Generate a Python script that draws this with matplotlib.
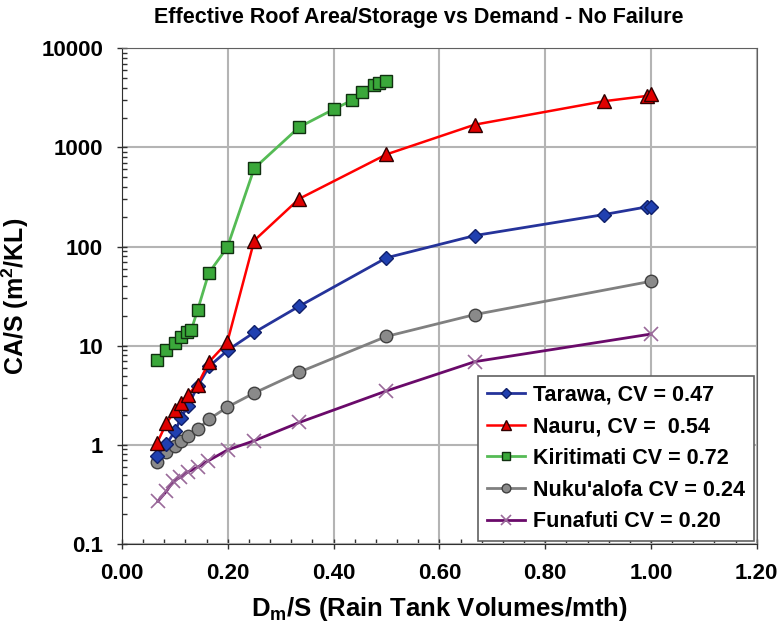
import numpy as np
import matplotlib
matplotlib.use('Agg')
import matplotlib.pyplot as plt
from matplotlib.ticker import LogLocator, MultipleLocator, FixedLocator, FuncFormatter

plt.rcParams['font.family'] = ['Liberation Sans', 'DejaVu Sans']
plt.rcParams['font.weight'] = 'bold'
plt.rcParams['mathtext.fontset'] = 'custom'
plt.rcParams['mathtext.rm'] = 'Liberation Sans:bold'
plt.rcParams['mathtext.it'] = 'Liberation Sans:bold'
plt.rcParams['mathtext.bf'] = 'Liberation Sans:bold'

# Tarawa, CV = 0.47
x_tarawa = [0.0667, 0.084, 0.101, 0.111, 0.125, 0.143, 0.165, 0.201, 0.25, 0.335, 0.5, 0.667, 0.911, 0.992, 1.0]
y_tarawa = [0.78, 1.02, 1.39, 1.86, 2.48, 3.9, 6.2, 9.1, 13.6, 25, 77, 129, 210, 251, 250]

# Nauru, CV = 0.54
x_nauru = [0.0667, 0.084, 0.101, 0.111, 0.124, 0.143, 0.165, 0.199, 0.25, 0.335, 0.5, 0.667, 0.911, 0.992, 1.0]
y_nauru = [1.05, 1.66, 2.22, 2.67, 3.2, 4.04, 6.9, 10.8, 115, 303, 850, 1695, 2920, 3300, 3430]

# Kiritimati CV = 0.72
x_kiri = [0.0667, 0.084, 0.101, 0.111, 0.122, 0.131, 0.143, 0.164, 0.199, 0.25, 0.335, 0.4, 0.435, 0.454, 0.477, 0.486, 0.5]
y_kiri = [7.2, 9.1, 10.7, 12.1, 13.6, 14.4, 22.9, 54, 98, 615, 1600, 2420, 2985, 3590, 4230, 4470, 4710]

# Nuku'alofa CV = 0.24
x_nuku = [0.0667, 0.084, 0.101, 0.111, 0.124, 0.143, 0.165, 0.199, 0.25, 0.335, 0.5, 0.667, 1.0]
y_nuku = [0.67, 0.84, 0.98, 1.1, 1.24, 1.44, 1.82, 2.4, 3.33, 5.4, 12.4, 20.6, 44.6]

# Funafuti CV = 0.20
x_funa = [0.068, 0.084, 0.097, 0.11, 0.124, 0.144, 0.163, 0.2, 0.25, 0.335, 0.5, 0.667, 1.0]
y_funa = [0.27, 0.34, 0.43, 0.47, 0.53, 0.6, 0.69, 0.89, 1.1, 1.68, 3.5, 6.9, 13.1]

y_ticks = [0.1, 1, 10, 100, 1000, 10000]

fig = plt.figure(figsize=(7.77, 6.26), dpi=100)
ax = fig.add_axes([0.157, 0.131, 0.817, 0.792])

ax.plot(x_tarawa, y_tarawa, color='#25339a', lw=2, marker='D', ms=7,
        mfc='#2040b0', mec='#10206a', label='Tarawa, CV = 0.47', zorder=4)
ax.plot(x_nauru, y_nauru, color='#ff0000', lw=1.8, marker='^', ms=10,
        mfc='#e00000', mec='#300000', label='Nauru, CV =  0.54', zorder=4)
ax.plot(x_kiri, y_kiri, color='#55bb55', lw=2, marker='s', ms=9,
        mfc='#3aa83a', mec='#103010', label='Kiritimati CV = 0.72', zorder=3)
ax.plot(x_nuku, y_nuku, color='#808080', lw=2, marker='o', ms=9,
        mfc='#8a8a8a', mec='#404040', label="Nuku'alofa CV = 0.24", zorder=3)
ax.plot(x_funa, y_funa, color='#6a0a6a', lw=2, marker='x', ms=10, mew=1.2,
        mec='#9a6a9a', label='Funafuti CV = 0.20', zorder=3)

ax.set_yscale('log')
ax.set_xlim(0, 1.2)
ax.set_ylim(0.1, 10000)
ax.xaxis.set_major_locator(MultipleLocator(0.2))
ax.xaxis.set_minor_locator(MultipleLocator(0.04))
ax.xaxis.set_major_formatter(FuncFormatter(lambda v, p: '%.2f' % v))
ax.yaxis.set_major_locator(FixedLocator(y_ticks))
ax.yaxis.set_minor_locator(LogLocator(base=10, subs=np.arange(2, 10)))
ax.yaxis.set_major_formatter(FuncFormatter(lambda v, p: '%g' % v))

ax.tick_params(axis='both', which='major', direction='inout', length=7, width=1,
               labelsize=16, pad=10, color='#303030')
ax.tick_params(axis='both', which='minor', direction='in', length=3.5, width=1,
               color='#303030')
for lab in ax.get_xticklabels() + ax.get_yticklabels():
    lab.set_fontweight('bold')

ax.grid(True, which='major', color='#b4b4b4', lw=1.5)
for side in ['top', 'right']:
    ax.spines[side].set_color('#606060')
for side in ['left', 'bottom']:
    ax.spines[side].set_color('#303030')

fig.text(0.539, 0.972, 'Effective Roof Area/Storage vs Demand - No Failure',
         fontsize=15.5, fontweight='bold', ha='center', va='center')
ax.set_xlabel(r'D$_\mathrm{m}$/S (Rain Tank Volumes/mth)', fontsize=18.5,
              fontweight='bold', labelpad=8)
ax.set_ylabel(r'CA/S (m$^\mathrm{2}$/KL)', fontsize=18, fontweight='bold')
ax.yaxis.set_label_coords(-0.143, 0.5)

leg = ax.legend(loc='lower right', bbox_to_anchor=(0.995, 0.006), fontsize=15.5,
                frameon=True, fancybox=False, shadow=False, borderpad=0.4,
                handlelength=1.8, handletextpad=0.35, labelspacing=0.5,
                borderaxespad=0.0, markerscale=0.7)
leg.get_frame().set_edgecolor('#606060')
leg.get_frame().set_linewidth(1.2)
leg.get_frame().set_alpha(1)
for t in leg.get_texts():
    t.set_fontweight('bold')

fig.savefig('out.png', dpi=100)
